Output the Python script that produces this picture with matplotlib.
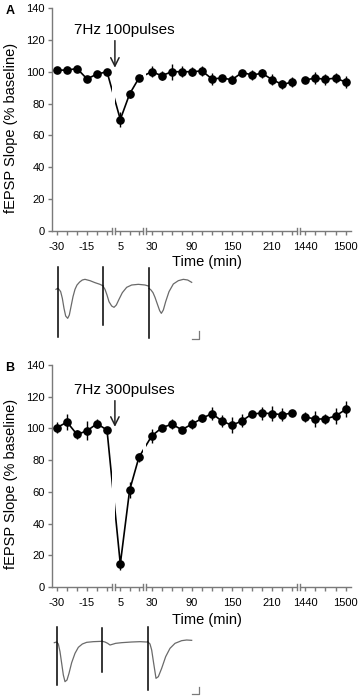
import numpy as np
import matplotlib
matplotlib.use("Agg")
import matplotlib.pyplot as plt

plt.rcParams['font.family'] = ['Liberation Sans', 'DejaVu Sans']
plt.rcParams['axes.unicode_minus'] = False

# ---------------- data ----------------
time_min = [-30, -25, -20, -15, -10, -5,
            5, 10, 15,
            30, 45, 60, 75, 90, 105, 120, 135, 150, 165, 180, 195, 210, 225, 240,
            1440, 1455, 1470, 1485, 1500]

slope_A = [101, 101, 102, 95.5, 98.5, 100,
           70, 86, 96,
           100, 97.5, 100, 100, 100, 100.5, 95.5, 96, 95, 99.5, 98, 99, 95, 92, 93.5,
           94.8, 96, 95.2, 96, 93.5]
sem_A = [1.2, 1.2, 1.2, 1.5, 1.5, 1.5,
         5, 2.5, 2,
         3.5, 3, 5, 3.5, 3, 3, 4, 2, 3, 1.5, 3, 3, 3.5, 3, 3,
         1.5, 4, 3.5, 3, 4]

slope_B = [100.5, 104, 96.2, 98.5, 103, 99,
           14.5, 61, 81.8,
           95.2, 100.4, 102.7, 99.2, 102.7, 106.3, 109.4, 104.6, 102, 104.8, 109.2, 109.6, 109.4, 108.6, 109.8,
           107.3, 105.9, 106, 107.8, 112]
sem_B = [3.5, 5, 3, 6, 3, 2,
         4, 5, 3,
         4.5, 2, 3, 2, 3, 2, 4, 4, 5, 4, 2, 4, 5, 4, 2,
         3, 5, 3, 5, 5]

tick_values = [-30, -15, 5, 30, 90, 150, 210, 1440, 1500]
tick_labels = ['-30', '-15', '5', '30', '90', '150', '210', '1440', '1500']

# sample traces (arbitrary units)
trA_s1_x = [33, 38, 42, 47, 52, 57, 62, 68, 73, 78, 84, 90, 96, 104, 112, 120, 135, 150, 165, 175]
trA_s1_y = [88, 85, 88, 95, 115, 145, 168, 175, 165, 140, 110, 88, 75, 66, 60, 58, 62, 68, 73, 78]
trA_s2_x = [175, 180, 186, 192, 200, 207, 214, 222, 232, 245, 260, 280, 300, 310]
trA_s2_y = [80, 88, 105, 125, 138, 142, 135, 118, 98, 82, 75, 73, 75, 78]
trA_s3_x = [312, 318, 324, 330, 338, 344, 349, 355, 362, 372, 385, 400, 415, 428, 440]
trA_s3_y = [85, 90, 98, 112, 135, 152, 160, 150, 125, 95, 72, 62, 58, 60, 67]
trA_art_x = [38, 175, 312]
trA_art_top = [20, 22, 25]
trA_art_bot = [230, 195, 235]

trB_s1_x = [28, 35, 40, 45, 50, 55, 60, 66, 72, 80, 90, 100, 112, 125, 145, 170]
trB_s1_y = [68, 66, 72, 95, 130, 165, 185, 180, 160, 128, 100, 82, 72, 67, 65, 64]
trB_s2_x = [172, 180, 188, 195, 202, 212, 230, 260, 285, 305]
trB_s2_y = [64, 66, 70, 75, 73, 70, 68, 66, 65, 66]
trB_s3_x = [308, 315, 320, 326, 333, 340, 350, 362, 375, 390, 410, 425, 440]
trB_s3_y = [65, 72, 90, 130, 175, 170, 145, 110, 85, 70, 62, 60, 61]
trB_art_x = [35, 172, 308]
trB_art_top = [20, 25, 20]
trB_art_bot = [195, 155, 210]

# ---------------- broken time axis (layout) ----------------
seg_t = [-32.5, -2.5, 2.15, 17.2, 21.5, 247.0, 1432.6, 1507.8]
seg_p = [0, 60, 63, 91, 94, 245, 248, 299]


def fwd(t):
    return np.interp(t, seg_t, seg_p)


def inv(p):
    return np.interp(p, seg_p, seg_t)


AX_GREY = '#7a7a7a'
W, H = 362, 696
fig = plt.figure(figsize=(W / 100, H / 100), dpi=100)


def make_panel(top_px, bot_px, mean, sem, letter, label, arrow_tip, arrow_top, text_y,
               xlabel_y):
    ax = fig.add_axes([52 / W, 1 - bot_px / H, 299 / W, (bot_px - top_px) / H])
    ax.set_xscale('function', functions=(fwd, inv))
    ax.set_xlim(seg_t[0], seg_t[-1])
    ax.set_ylim(0, 140)
    ax.set_yticks(np.arange(0, 141, 20))
    for s in ['top', 'right', 'bottom']:
        ax.spines[s].set_visible(False)
    ax.spines['left'].set_color(AX_GREY)
    ax.spines['left'].set_linewidth(1)
    ax.tick_params(axis='y', direction='out', length=3, width=1, color=AX_GREY,
                   labelsize=8, pad=2)
    ax.set_xticks(tick_values)
    ax.set_xticklabels(tick_labels)
    ax.set_xticks(time_min, minor=True)
    ax.tick_params(axis='x', which='both', direction='out', length=3, width=1,
                   color=AX_GREY, labelsize=8, pad=5)
    ax.xaxis.set_minor_formatter(plt.NullFormatter())

    t = np.array(time_min)
    m = np.array(mean)
    e = np.array(sem)
    early = t < 1000
    late = t >= 1000
    ax.plot(t[early], m[early], color='black', lw=1.2, zorder=2)
    ax.plot(t[late], m[late], color='black', lw=1.2, zorder=2)
    # axis-break gaps in the connecting line
    for i in (1, 3):
        ax.axvspan(seg_t[i], seg_t[i + 1], color='white', zorder=2.5, lw=0)
    ax.errorbar(t, m, yerr=e, fmt='o', color='black', ms=5.2, elinewidth=1,
                capsize=0, zorder=3)

    # x-axis segments with break marks
    xt = ax.get_xaxis_transform()
    for i in range(0, len(seg_t), 2):
        ax.plot([seg_t[i], seg_t[i + 1]], [0, 0], transform=xt, color=AX_GREY,
                lw=1, clip_on=False, zorder=4)
    for v in seg_t[1:-1]:
        ax.plot([v, v], [-0.012, 0.012], transform=xt, color=AX_GREY, lw=1,
                clip_on=False, zorder=4)

    ax.annotate('', xy=(2, arrow_tip), xytext=(2, arrow_top),
                arrowprops=dict(arrowstyle='->', color='#222222', lw=1.1,
                                mutation_scale=15, shrinkA=0, shrinkB=0))
    ax.text(inv(72), text_y, label, ha='center', va='center', fontsize=11)

    cy = (top_px + bot_px) / 2 + 8
    fig.text(11 / W, 1 - cy / H, 'fEPSP Slope (% baseline)', rotation=90,
             ha='center', va='center', fontsize=10.5)
    fig.text(207 / W, 1 - xlabel_y / H, 'Time (min)', ha='center',
             va='center', fontsize=10.5)
    fig.text(10 / W, 1 - (top_px + 3) / H, letter, ha='center', va='center',
             fontsize=9, fontweight='bold')
    return ax


make_panel(8, 231, slope_A, sem_A, 'A', '7Hz 100pulses', 102.5, 119.5, 126, 262)
make_panel(365, 587, slope_B, sem_B, 'B', '7Hz 300pulses', 101, 117.5, 124.5, 620)


def make_trace(left, top, width, height, sweeps, art_x, art_top, art_bot, bar):
    ax = fig.add_axes([left / W, 1 - (top + height) / H, width / W, height / H])
    ax.set_xlim(0, width * 3)
    ax.set_ylim(height * 3, 0)
    ax.axis('off')
    for sx, sy in sweeps:
        ax.plot(sx, sy, color='#6a6a6a', lw=0.9)
    for x, a, b in zip(art_x, art_top, art_bot):
        ax.plot([x, x], [a, b], color='black', lw=1.1)
    bx0, bx1, by0, by1 = bar
    ax.plot([bx0, bx1, bx1], [by1, by1, by0], color=AX_GREY, lw=0.9)
    return ax


make_trace(45, 260, 165, 85,
           [(trA_s1_x, trA_s1_y), (trA_s2_x, trA_s2_y), (trA_s3_x, trA_s3_y)],
           trA_art_x, trA_art_top, trA_art_bot, (440, 462, 212, 238))
make_trace(45, 620, 165, 76,
           [(trB_s1_x, trB_s1_y), (trB_s2_x, trB_s2_y), (trB_s3_x, trB_s3_y)],
           trB_art_x, trB_art_top, trB_art_bot, (440, 462, 200, 222))

fig.savefig('out.png', dpi=100)
